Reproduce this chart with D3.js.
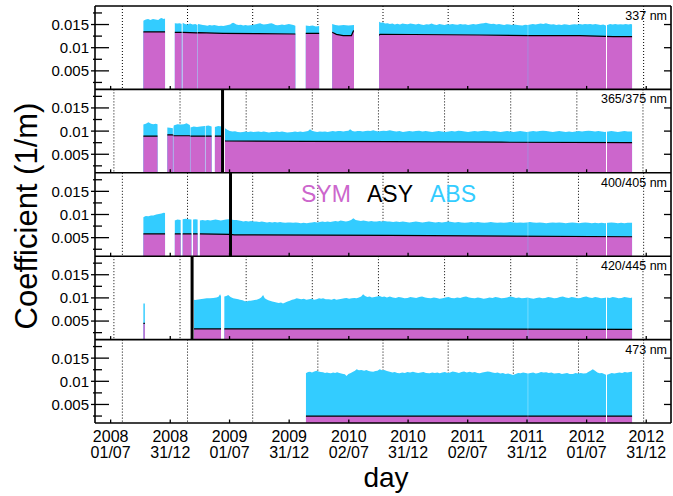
<!DOCTYPE html>
<html>
<head>
<meta charset="utf-8">
<script src="https://cdn.jsdelivr.net/npm/d3@7"></script>
<style>
  body { margin: 0; background: #fff; }
  svg { display: block; }
  text { font-family: "Liberation Sans", Arial, Helvetica, sans-serif; }
</style>
</head>
<body>
<svg id="chart" width="673" height="496"></svg>
<script>
// Day numbers count from 2008-07-01 (day 0).
const baseDate = "2008-07-01";
const tickDates = ["2008-07-01","2008-12-31","2009-07-01","2009-12-31","2010-07-02",
                   "2010-12-31","2011-07-02","2011-12-31","2012-07-01","2012-12-31"];
const tickYears = ["2008","2008","2009","2009","2010","2010","2011","2011","2012","2012"];
const tickDayMonth = ["01/07","31/12","01/07","31/12","02/07","31/12","02/07","31/12","01/07","31/12"];

const yMajor = [0.005, 0.01, 0.015];
const yMinor = [0.0025, 0.0075, 0.0125, 0.0175];

const panelLabels = ["337 nm", "365/375 nm", "400/405 nm", "420/445 nm", "473 nm"];
const legendNames = ["SYM", "ASY", "ABS"];

// Dotted reference days (two alternating sets of panels)
const gridDaysA = [36, 236, 436, 636, 836, 1036, 1236, 1436, 1636];
const gridDaysB = [10, 213, 416, 619, 822, 1025, 1228, 1431, 1634];

// Days with a marker line (per panel, null = none)
const markerDays = [null, 343.5, 368, 250, null];

// ---- 337 nm ----
const spans337 = [[100,167],[197,218],[221,266.5],[268,567],[599,640],[680,747],
                  [824,1280.5],[1281.5,1520.5],[1523.5,1601]];
const sym337 = [[100,0.0134],[167,0.0134],[197,0.0133],[218,0.0133],[221,0.0133],[266,0.0132],
                [269,0.01324],[345,0.01311],[450,0.01302],[567,0.01296],[599,0.0131],[640,0.0131],
                [680,0.01332],[693,0.01289],[714,0.01259],[739,0.01262],[745,0.01362],[747,0.01365],
                [824,0.01274],[827,0.0129],[1133,0.01274],[1287,0.01259],[1440,0.01259],
                [1543,0.01237],[1601,0.01237]];
const top337 = [[100,0.0158],[108,0.0161],[115,0.0162],[122,0.0160],[130,0.0162],[138,0.0161],
  [146,0.0160],[152,0.0163],[156,0.0164],[163,0.0162],[167,0.0163],
  [197,0.0153],[205,0.0152],[212,0.0153],[218,0.0151],
  [221,0.0154],[228,0.0151],[236,0.0150],[244,0.0152],[252,0.0150],[260,0.0151],[266,0.0149],
  [269,0.0151],[276,0.0150],[283,0.0149],[290,0.01485],[297,0.01475],[304,0.0149],[311,0.0148],
  [318,0.0149],[325,0.0148],[332,0.0147],[339,0.01475],[346,0.01468],[353,0.0148],[360,0.0149],
  [367,0.0150],[372,0.0153],[376,0.0154],[381,0.0152],[386,0.0150],[393,0.0149],[400,0.01495],
  [407,0.0148],[414,0.0149],[421,0.0148],[428,0.01484],[435,0.0149],[442,0.0150],[449,0.0151],
  [455,0.0152],[459,0.01527],[464,0.0151],[470,0.0150],[476,0.01505],[482,0.0151],[488,0.0152],
  [494,0.01527],[500,0.0151],[506,0.0149],[512,0.01484],[519,0.0149],[526,0.0150],[533,0.0149],
  [540,0.0150],[547,0.0151],[554,0.0150],[561,0.0149],[567,0.01475],
  [599,0.0148],[610,0.0147],[620,0.0148],[630,0.0146],[640,0.0147],
  [680,0.0151],[690,0.0149],[700,0.0148],[715,0.0149],[730,0.0148],[747,0.0149],
  [824,0.0156],[830,0.0154],[836,0.0155],[842,0.0152],[850,0.0153],[857,0.0151],[865,0.0152],
  [872,0.0150],[880,0.01515],[888,0.0150],[896,0.0152],[904,0.0151],[912,0.01505],[920,0.0152],
  [929,0.0151],[937,0.0150],[945,0.01515],[953,0.0150],[961,0.0149],[969,0.01505],[977,0.0150],
  [985,0.0152],[993,0.0150],[1001,0.0149],[1009,0.0151],[1017,0.0150],[1025,0.0149],[1033,0.01505],
  [1041,0.0150],[1049,0.0151],[1057,0.0150],[1065,0.01495],[1073,0.0151],[1081,0.0150],[1089,0.01505],
  [1097,0.0149],[1105,0.0150],[1113,0.0151],[1121,0.0150],[1129,0.0151],[1137,0.0152],[1145,0.0153],
  [1152,0.0154],[1160,0.0152],[1168,0.0151],[1176,0.01515],[1184,0.0150],[1192,0.0151],[1200,0.0150],
  [1208,0.0149],[1216,0.01505],[1224,0.0150],[1232,0.0149],[1240,0.0150],[1248,0.0149],[1256,0.01485],
  [1264,0.0148],[1272,0.01495],[1280,0.0149],[1288,0.0150],[1296,0.0151],[1304,0.0150],[1312,0.0151],
  [1320,0.0152],[1328,0.0151],[1336,0.0153],[1344,0.0151],[1352,0.0150],[1360,0.01505],[1368,0.0149],
  [1376,0.0150],[1384,0.0149],[1392,0.01505],[1400,0.0150],[1408,0.0149],[1416,0.0150],[1424,0.01505],
  [1432,0.0150],[1440,0.0151],[1448,0.0150],[1456,0.0151],[1464,0.01505],[1472,0.0151],[1480,0.0150],
  [1488,0.0151],[1496,0.0150],[1504,0.0149],[1512,0.0150],[1520,0.0148],[1525,0.0149],[1533,0.0151],
  [1541,0.0150],[1549,0.0151],[1557,0.0150],[1565,0.01505],[1573,0.0150],[1581,0.0151],[1589,0.0150],
  [1597,0.0151],[1601,0.0150]];

// ---- 365/375 nm ----
const spans365 = [[100,144],[174,191],[193,243.5],[245,289.5],[291.5,310],[320,341],
                  [351,1280.5],[1281.5,1520.5],[1523.5,1601]];
const sym365 = [[100,0.0089],[144,0.0089],[174,0.0092],[191,0.0092],[193,0.0090],[243,0.0090],
                [245,0.0089],[341,0.0089],[351,0.00786],[600,0.0078],[857,0.00771],[1200,0.0076],
                [1601,0.0075]];
const top365 = [[100,0.0114],[108,0.0116],[116,0.0119],[124,0.0116],[131,0.0115],[138,0.0116],[144,0.0115],
  [174,0.0108],[182,0.0107],[191,0.0106],
  [193,0.0112],[205,0.0115],[215,0.0114],[225,0.0115],[233,0.0117],[243,0.0113],
  [245,0.0108],[255,0.0110],[265,0.0109],[275,0.0110],[289,0.0111],
  [291.5,0.0111],[300,0.0112],[310,0.0110],
  [320,0.0109],[330,0.0111],[341,0.0110],
  [351,0.0106],[358,0.0103],[366,0.0100],[374,0.0099],[382,0.00995],[390,0.0098],[398,0.00974],
  [406,0.0098],[414,0.0099],[422,0.0098],[430,0.0099],[438,0.0098],[446,0.00988],[454,0.0099],
  [462,0.0098],[470,0.0099],[478,0.0098],[486,0.0097],[494,0.0098],[502,0.00981],[510,0.0099],
  [518,0.0098],[526,0.0099],[534,0.0098],[542,0.0097],[550,0.00974],[558,0.0098],[566,0.0099],
  [574,0.0098],[582,0.0099],[590,0.0098],[598,0.0099],[606,0.0100],[612,0.01039],[618,0.0101],
  [626,0.0099],[634,0.0098],[642,0.0099],[650,0.00988],[658,0.0099],[666,0.0098],[674,0.0099],
  [682,0.0100],[690,0.0099],[698,0.0100],[706,0.01002],[714,0.0099],[722,0.0100],[730,0.0101],
  [735,0.01039],[742,0.0100],[750,0.0099],[758,0.01002],[766,0.0100],[774,0.0099],[782,0.0100],
  [790,0.0101],[798,0.0100],[806,0.01017],[814,0.0100],[822,0.0099],[830,0.0100],[838,0.0101],
  [846,0.0100],[857,0.01017],[867,0.0100],[877,0.0099],[887,0.0100],[897,0.0098],[907,0.0099],
  [917,0.0100],[927,0.0099],[937,0.0100],[947,0.0101],[957,0.0099],[967,0.0100],[977,0.0099],
  [987,0.0098],[997,0.0099],[1007,0.0100],[1017,0.0099],[1027,0.0098],[1037,0.0099],[1047,0.0100],
  [1057,0.0099],[1067,0.0101],[1077,0.0100],[1087,0.0099],[1097,0.0098],[1107,0.0099],[1117,0.0100],
  [1127,0.0099],[1137,0.0100],[1147,0.0101],[1157,0.0100],[1167,0.0099],[1177,0.0100],[1187,0.0099],
  [1197,0.0098],[1207,0.0099],[1217,0.0100],[1227,0.0099],[1237,0.0098],[1247,0.0099],[1257,0.0100],
  [1267,0.0099],[1277,0.0098],[1287,0.0099],[1297,0.0100],[1307,0.0099],[1317,0.0100],[1327,0.0101],
  [1337,0.0100],[1347,0.0099],[1357,0.0098],[1367,0.0099],[1377,0.0100],[1387,0.0099],[1397,0.0098],
  [1407,0.0099],[1417,0.0098],[1427,0.0099],[1437,0.0100],[1447,0.0099],[1457,0.0100],[1467,0.0101],
  [1477,0.0100],[1487,0.0099],[1497,0.0100],[1507,0.0099],[1517,0.0098],[1527,0.0099],[1537,0.0100],
  [1547,0.0099],[1557,0.0098],[1567,0.0099],[1577,0.0100],[1587,0.0099],[1601,0.0099]];

// ---- 400/405 nm ----
const spans400 = [[100,167],[197,215],[221,248],[253,267],[274,1280.5],[1281.5,1520.5],[1523.5,1601]];
const sym400 = [[100,0.0058],[167,0.0058],[197,0.0058],[267,0.0058],[274,0.0058],[366,0.0057],
                [380,0.0056],[857,0.0055],[1601,0.0052]];
const top400 = [[100,0.0094],[108,0.0097],[116,0.0096],[124,0.0098],[131,0.0098],[140,0.0100],
  [148,0.0101],[156,0.0102],[163,0.0104],[167,0.0103],
  [197,0.0087],[205,0.0089],[215,0.0088],
  [221,0.0090],[230,0.0091],[240,0.0090],[248,0.0089],
  [253,0.0089],[260,0.0090],[267,0.0089],
  [274,0.0087],[282,0.0088],[290,0.0087],[298,0.0088],[306,0.0087],[314,0.0088],[322,0.0089],
  [330,0.0088],[338,0.0087],[346,0.0088],[354,0.0089],[362,0.0090],[370,0.0089],[378,0.0088],
  [386,0.0088],[394,0.0087],[402,0.0086],[407,0.0085],[415,0.0086],[423,0.0085],[431,0.0086],
  [439,0.0085],[448,0.0085],[456,0.0084],[464,0.0085],[472,0.0084],[480,0.0083],[488,0.0084],
  [496,0.0083],[504,0.0084],[512,0.0083],[520,0.0084],[528,0.0083],[536,0.0082],[544,0.0083],
  [552,0.0083],[560,0.0082],[568,0.0083],[576,0.0082],[584,0.0081],[592,0.0082],[602,0.0081],
  [610,0.0082],[618,0.0083],[626,0.0084],[634,0.0083],[642,0.0084],[650,0.0085],[658,0.0084],
  [666,0.0085],[674,0.0084],[682,0.0085],[690,0.0086],[698,0.0085],[706,0.0087],[714,0.0086],
  [722,0.0085],[730,0.0086],[738,0.0088],[745,0.0092],[752,0.0088],[760,0.0087],[768,0.0086],
  [776,0.0087],[784,0.0086],[792,0.0085],[800,0.0086],[808,0.0085],[817,0.0085],[825,0.0086],
  [833,0.0085],[841,0.0086],[849,0.0085],[857,0.0085],[867,0.0084],[877,0.0085],[887,0.0084],
  [897,0.0085],[907,0.0084],[917,0.0083],[927,0.0084],[937,0.0085],[947,0.0084],[957,0.0083],
  [967,0.0084],[977,0.0085],[987,0.0084],[997,0.0083],[1007,0.0084],[1017,0.0083],[1027,0.0084],
  [1037,0.0085],[1047,0.0084],[1057,0.0083],[1067,0.0084],[1077,0.0083],[1087,0.0082],[1097,0.0083],
  [1107,0.0084],[1117,0.0083],[1127,0.0084],[1137,0.0083],[1147,0.0082],[1157,0.0083],[1167,0.0084],
  [1177,0.0083],[1187,0.0082],[1197,0.0083],[1207,0.0082],[1217,0.0083],[1227,0.0084],[1237,0.0083],
  [1247,0.0082],[1257,0.0083],[1267,0.0082],[1277,0.0083],[1287,0.0084],[1297,0.0083],[1307,0.0082],
  [1317,0.0083],[1327,0.0082],[1337,0.0081],[1347,0.0082],[1357,0.0083],[1367,0.0082],[1377,0.0083],
  [1387,0.0082],[1397,0.0081],[1407,0.0082],[1417,0.0083],[1427,0.0082],[1437,0.0081],[1447,0.0082],
  [1457,0.0083],[1467,0.0082],[1477,0.0081],[1487,0.0082],[1497,0.0081],[1507,0.0082],[1517,0.0081],
  [1527,0.0082],[1537,0.0083],[1547,0.0082],[1557,0.0081],[1567,0.0082],[1577,0.0081],[1587,0.0082],
  [1601,0.0082]];

// ---- 420/445 nm ----
const spans420 = [[100,105],[256,338.7],[349,1280.5],[1281.5,1520.5],[1523.5,1601]];
const sym420 = [[100,0.0045],[105,0.0045],[256,0.0033],[857,0.0033],[1601,0.0032]];
const top420 = [[100,0.0088],[105,0.0088],
  [256,0.0096],[259,0.00955],[274,0.0097],[285,0.0098],[295,0.0099],[305,0.0099],
  [315,0.0100],[325,0.0101],[331,0.01026],[336,0.0108],[339,0.0103],
  [349,0.0103],[355,0.0104],[361,0.0106],[368,0.0102],[376,0.0099],[384,0.0098],[392,0.0097],
  [397,0.0096],[405,0.0095],[412,0.0093],[417,0.0092],[424,0.0094],[430,0.0094],[438,0.0095],
  [448,0.0096],[456,0.0098],[462,0.0101],[468,0.0106],[473,0.0099],[478,0.0097],[484,0.0095],
  [489,0.0094],[496,0.0092],[503,0.0091],[509,0.0090],[516,0.0089],[523,0.0090],[529,0.0088],
  [536,0.0090],[543,0.0092],[550,0.0094],[557,0.0096],[564,0.0097],[571,0.0099],[578,0.0098],
  [585,0.0097],[593,0.0098],[601,0.0096],[609,0.0097],[617,0.0098],[625,0.0096],[632,0.0097],
  [640,0.0099],[646,0.0098],[652,0.0099],[660,0.0097],[670,0.0097],[678,0.0096],[686,0.0098],
  [693,0.0096],[701,0.0097],[710,0.0098],[717,0.0099],[724,0.0100],[732,0.0098],[740,0.0099],
  [748,0.0100],[755,0.0099],[762,0.0101],[769,0.0103],[775,0.0108],[781,0.0104],[788,0.0102],
  [795,0.0103],[802,0.0101],[810,0.0102],[818,0.0103],[826,0.0104],[833,0.0102],[840,0.0103],
  [848,0.0101],[857,0.0103],[866,0.0101],[875,0.0100],[884,0.0102],[893,0.0101],[902,0.0099],
  [911,0.0100],[920,0.0102],[929,0.0101],[938,0.0100],[947,0.0102],[956,0.0103],[965,0.0101],
  [974,0.0100],[983,0.0099],[992,0.0101],[1001,0.0100],[1010,0.0098],[1019,0.0099],[1028,0.0101],
  [1037,0.0102],[1046,0.0100],[1055,0.0099],[1064,0.0101],[1073,0.0100],[1082,0.0102],[1091,0.0103],
  [1100,0.0101],[1109,0.0100],[1118,0.0099],[1127,0.0101],[1136,0.0100],[1145,0.0098],[1154,0.0099],
  [1163,0.0101],[1172,0.0100],[1181,0.0102],[1190,0.0101],[1199,0.0099],[1208,0.0100],[1217,0.0101],
  [1226,0.0103],[1235,0.0102],[1244,0.0100],[1253,0.0101],[1262,0.0099],[1271,0.0100],[1280,0.0101],
  [1289,0.0099],[1298,0.0098],[1307,0.0100],[1316,0.0101],[1325,0.0099],[1334,0.0100],[1343,0.0102],
  [1352,0.0101],[1361,0.0099],[1370,0.0100],[1379,0.0102],[1388,0.0103],[1397,0.0101],[1406,0.0100],
  [1415,0.0102],[1424,0.0101],[1433,0.0099],[1442,0.0100],[1451,0.0102],[1460,0.0103],[1469,0.0101],
  [1478,0.0100],[1487,0.0102],[1496,0.0101],[1505,0.0099],[1514,0.0100],[1523,0.0101],[1532,0.0100],
  [1541,0.0102],[1550,0.0101],[1559,0.0099],[1568,0.0100],[1577,0.0102],[1586,0.0101],[1595,0.0100],
  [1601,0.0101]];

// ---- 473 nm ----
const spans473 = [[599,1280.5],[1281.5,1520.5],[1523.5,1601]];
const sym473 = [[599,0.0025],[1601,0.0025]];
const top473 = [[599,0.01173],[606,0.0120],[612,0.01207],[618,0.0119],[625,0.0121],[632,0.01229],
  [638,0.0121],[645,0.0120],[652,0.01194],[658,0.0118],[664,0.0119],[670,0.0118],[676,0.01173],
  [683,0.0119],[689,0.0118],[695,0.01194],[702,0.0118],[708,0.0117],[714,0.0116],[719,0.0115],
  [724,0.01114],[730,0.0116],[737,0.0118],[744,0.01207],[750,0.0123],[755,0.01259],[762,0.0124],
  [770,0.01245],[778,0.0123],[785,0.01244],[792,0.0122],[799,0.0121],[806,0.01207],[813,0.0122],
  [819,0.0123],[826,0.01259],[833,0.0124],[840,0.01245],[848,0.0122],[857,0.01207],[865,0.0119],
  [872,0.0120],[880,0.0118],[887,0.01173],[895,0.0119],[903,0.0118],[911,0.0120],[919,0.0119],
  [928,0.01207],[936,0.0119],[944,0.0118],[952,0.0119],[960,0.0120],[968,0.0118],[979,0.01173],
  [987,0.0119],[995,0.0118],[1003,0.0119],[1010,0.01173],[1018,0.0119],[1026,0.0120],[1034,0.0118],
  [1042,0.0119],[1050,0.0121],[1061,0.01194],[1069,0.0118],[1077,0.0120],[1085,0.0121],[1093,0.0119],
  [1102,0.01207],[1110,0.0119],[1118,0.0120],[1126,0.0118],[1133,0.01173],[1141,0.0119],[1149,0.0120],
  [1157,0.0121],[1164,0.01207],[1172,0.0119],[1180,0.0118],[1188,0.0119],[1196,0.0117],[1204,0.0118],
  [1212,0.0116],[1220,0.0117],[1228,0.0115],[1235,0.01136],[1243,0.0116],[1251,0.0118],[1258,0.01173],
  [1266,0.0119],[1274,0.0118],[1281,0.0117],[1289,0.0118],[1297,0.0119],[1305,0.0117],[1313,0.0118],
  [1321,0.0120],[1329,0.0119],[1337,0.01194],[1345,0.0118],[1353,0.0119],[1361,0.0117],[1369,0.01173],
  [1377,0.0118],[1385,0.0116],[1393,0.0117],[1401,0.0118],[1409,0.0116],[1419,0.01158],[1427,0.0118],
  [1435,0.0117],[1443,0.0118],[1451,0.0117],[1460,0.01173],[1466,0.0120],[1473,0.0123],[1480,0.01259],
  [1487,0.0123],[1494,0.0119],[1501,0.01173],[1508,0.0118],[1515,0.0116],[1522,0.01136],[1530,0.0116],
  [1538,0.0118],[1546,0.0117],[1554,0.0118],[1562,0.0119],[1570,0.0118],[1578,0.0120],[1586,0.0119],
  [1594,0.0120],[1601,0.01207]];

const panelSym = [sym337, sym365, sym400, sym420, sym473];
const panelTop = [top337, top365, top400, top420, top473];
const panelSpans = [spans337, spans365, spans400, spans420, spans473];
const panelGrid = [gridDaysA, gridDaysB, gridDaysA, gridDaysB, gridDaysA];

// ---- layout ----
const left = 95, right = 671, top0 = 6, panelH = 83.4;
const colSym = "#cc66cc", colAsy = "#000000", colAbs = "#33ccff";

const svg = d3.select("#chart");
const x = d3.scaleLinear().domain([-48, 1720]).range([left, right]);
const base = new Date(baseDate + "T00:00:00Z");
const tickDays = tickDates.map(s => d3.utcDay.count(base, new Date(s + "T00:00:00Z")));

panelLabels.forEach((label, i) => {
  const pTop = top0 + i * panelH, pBot = pTop + panelH;
  const y = d3.scaleLinear().domain([0.001, 0.019]).range([pBot, pTop]);
  const g = svg.append("g");

  // dotted reference lines
  g.selectAll("line.grid").data(panelGrid[i]).join("line")
    .attr("x1", d => x(d)).attr("x2", d => x(d))
    .attr("y1", pTop).attr("y2", pBot)
    .attr("stroke", "#000").attr("stroke-width", 1).attr("stroke-dasharray", "1,2");

  // clip to the days that have data
  const clipId = "clip" + i;
  svg.append("clipPath").attr("id", clipId)
    .selectAll("rect").data(panelSpans[i]).join("rect")
    .attr("x", d => x(d[0])).attr("width", d => x(d[1]) - x(d[0]))
    .attr("y", pTop).attr("height", panelH);

  const gc = g.append("g").attr("clip-path", `url(#${clipId})`);
  const area = d3.area().x(d => x(d[0])).y0(pBot).y1(d => y(d[1]));
  gc.append("path").datum(panelTop[i]).attr("d", area).attr("fill", colAbs);
  gc.append("path").datum(panelSym[i]).attr("d", area).attr("fill", colSym);
  gc.append("path").datum(panelSym[i])
    .attr("d", d3.line().x(d => x(d[0])).y(d => y(d[1])))
    .attr("fill", "none").attr("stroke", colAsy).attr("stroke-width", 1.2);

  // marker line
  if (markerDays[i] !== null) {
    g.append("line")
      .attr("x1", x(markerDays[i])).attr("x2", x(markerDays[i]))
      .attr("y1", pTop).attr("y2", pBot)
      .attr("stroke", "#000").attr("stroke-width", 3);
  }

  // y ticks, both sides
  g.selectAll("line.ymaj").data(yMajor).join("line")
    .attr("x1", left - 4).attr("x2", left + 14)
    .attr("y1", d => y(d)).attr("y2", d => y(d))
    .attr("stroke", "#000").attr("stroke-width", 1.3);
  g.selectAll("line.ymin").data(yMinor).join("line")
    .attr("x1", left - 2).attr("x2", left + 7)
    .attr("y1", d => y(d)).attr("y2", d => y(d))
    .attr("stroke", "#000").attr("stroke-width", 1.3);
  g.selectAll("line.ymajr").data(yMajor).join("line")
    .attr("x1", right - 7).attr("x2", right)
    .attr("y1", d => y(d)).attr("y2", d => y(d))
    .attr("stroke", "#000").attr("stroke-width", 1.3);

  g.selectAll("text.ylab").data(yMajor).join("text")
    .attr("x", left - 6).attr("y", d => y(d))
    .attr("dy", "0.36em").attr("text-anchor", "end")
    .attr("font-size", 15).text(d => String(d));

  // x ticks on the panel floor
  g.selectAll("line.xt").data(tickDays).join("line")
    .attr("x1", d => x(d)).attr("x2", d => x(d))
    .attr("y1", pBot).attr("y2", pBot - 3.5)
    .attr("stroke", "#000").attr("stroke-width", 1.3);

  // panel floor line
  g.append("line").attr("x1", left).attr("x2", right).attr("y1", pBot).attr("y2", pBot)
    .attr("stroke", "#000").attr("stroke-width", 1.6);

  g.append("text").attr("x", 667).attr("y", pTop + 14)
    .attr("text-anchor", "end").attr("font-size", 12.5).text(label);
});

// outer frame
svg.append("line").attr("x1", left).attr("x2", right).attr("y1", top0).attr("y2", top0)
  .attr("stroke", "#000").attr("stroke-width", 1.6);
svg.append("line").attr("x1", left).attr("x2", left).attr("y1", top0).attr("y2", top0 + 5 * panelH)
  .attr("stroke", "#000").attr("stroke-width", 1.6);
svg.append("line").attr("x1", right).attr("x2", right).attr("y1", top0).attr("y2", top0 + 5 * panelH)
  .attr("stroke", "#000").attr("stroke-width", 1.6);

// date labels
const xl = svg.append("g").attr("font-size", 16).attr("text-anchor", "middle");
tickDays.forEach((d, k) => {
  xl.append("text").attr("x", x(d)).attr("y", 442).text(tickYears[k]);
  xl.append("text").attr("x", x(d)).attr("y", 457.5).text(tickDayMonth[k]);
});

// axis titles
svg.append("text").attr("x", 386).attr("y", 487).attr("text-anchor", "middle")
  .attr("font-size", 28).text("day");
svg.append("text").attr("transform", "translate(37,216) rotate(-90)")
  .attr("text-anchor", "middle").attr("font-size", 31).text("Coefficient (1/m)");

// legend
const legendX = [301, 367, 430];
const legendCol = [colSym, colAsy, colAbs];
legendNames.forEach((n, k) => {
  svg.append("text").attr("x", legendX[k]).attr("y", 202)
    .attr("font-size", 23).attr("fill", legendCol[k]).text(n);
});
</script>
</body>
</html>
